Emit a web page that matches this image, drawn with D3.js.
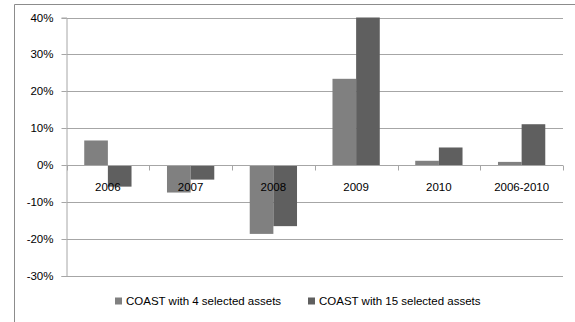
<!DOCTYPE html>
<html>
<head>
<meta charset="utf-8">
<script src="https://cdn.jsdelivr.net/npm/d3@7"></script>
<style>
  html, body { margin: 0; padding: 0; background: #fff; }
  svg { display: block; }
  text { font-family: "Liberation Sans", Arial, sans-serif; fill: #000; }
</style>
</head>
<body>
<svg id="chart" width="575" height="322"></svg>
<script>
// Annual returns per period
const categories = ["2006", "2007", "2008", "2009", "2010", "2006-2010"];
const seriesNames = ["COAST with 4 selected assets", "COAST with 15 selected assets"];
const assets4 = [6.7, -7.4, -18.6, 23.4, 1.2, 0.9];
const assets15 = [-5.8, -3.9, -16.5, 40.0, 4.8, 11.1];
const yTicks = [-30, -20, -10, 0, 10, 20, 30, 40];
const colors = ["#808080", "#5f5f5f"];

const svg = d3.select("#chart");
const W = 575, H = 322;
const plot = { left: 66.5, right: 563, top: 17.5, bottom: 276 };

// outer frame (left and top edges)
svg.append("path")
  .attr("d", `M14.5,${H} V4.5 H${W}`)
  .attr("fill", "none").attr("stroke", "#8c8c8c").attr("stroke-width", 1);

const x = d3.scaleBand().domain(categories).range([plot.left, plot.right]);
const x1 = d3.scaleBand().domain([0, 1]).range([0, x.bandwidth()])
  .paddingInner(0).paddingOuter(0.75);
const y = d3.scaleLinear().domain([-30, 40]).range([plot.bottom, plot.top]);

// horizontal gridlines
svg.append("g").selectAll("line").data(yTicks).join("line")
  .attr("x1", plot.left).attr("x2", plot.right)
  .attr("y1", d => Math.round(y(d)) + 0.5).attr("y2", d => Math.round(y(d)) + 0.5)
  .attr("stroke", "#a6a6a6").attr("stroke-width", 1);

// y axis
const yAxis = svg.append("g")
  .attr("transform", `translate(${plot.left},0)`)
  .call(d3.axisLeft(y).tickValues(yTicks).tickSize(5).tickPadding(8)
    .tickFormat(d => d + "%"));
yAxis.select(".domain").attr("stroke", "#a6a6a6");
yAxis.selectAll(".tick line").attr("stroke", "#a6a6a6");
yAxis.selectAll(".tick text").style("font-size", "11.5px")
  .style("font-family", "'Liberation Sans', Arial, sans-serif");
yAxis.selectAll(".tick").attr("transform", d => `translate(0,${Math.round(y(d)) + 0.5})`);

// bars
const data = categories.map((c, i) => ({ cat: c, vals: [assets4[i], assets15[i]] }));
const groups = svg.append("g").selectAll("g").data(data).join("g")
  .attr("transform", d => `translate(${x(d.cat)},0)`);
groups.selectAll("rect").data(d => d.vals.map((v, k) => ({ v, k }))).join("rect")
  .attr("x", d => x1(d.k))
  .attr("width", x1.bandwidth())
  .attr("y", d => y(Math.max(0, d.v)))
  .attr("height", d => Math.abs(y(d.v) - y(0)))
  .attr("fill", d => colors[d.k]);

// category axis at zero, with boundary ticks downward
const y0 = Math.round(y(0)) + 0.5;
const bounds = categories.map(c => x(c)).concat([plot.right]);
svg.append("g").selectAll("line").data(bounds).join("line")
  .attr("x1", d => Math.round(d) + 0.5).attr("x2", d => Math.round(d) + 0.5)
  .attr("y1", y0).attr("y2", y0 + 5)
  .attr("stroke", "#a6a6a6");
svg.append("line")
  .attr("x1", plot.left).attr("x2", plot.right)
  .attr("y1", y0).attr("y2", y0)
  .attr("stroke", "#a6a6a6");

// category labels just under the zero line
svg.append("g").selectAll("text").data(categories).join("text")
  .attr("x", d => x(d) + x.bandwidth() / 2)
  .attr("y", y0 + 25)
  .attr("text-anchor", "middle")
  .style("font-size", "11.5px")
  .text(d => d);

// legend
const legendX = [115, 308];
const leg = svg.append("g").selectAll("g").data(seriesNames).join("g")
  .attr("transform", (d, i) => `translate(${legendX[i]},297.5)`);
leg.append("rect").attr("width", 7).attr("height", 7).attr("fill", (d, i) => colors[i]);
leg.append("text").attr("x", 11).attr("y", 7.5)
  .style("font-size", "11.5px").text(d => d);
</script>
</body>
</html>
